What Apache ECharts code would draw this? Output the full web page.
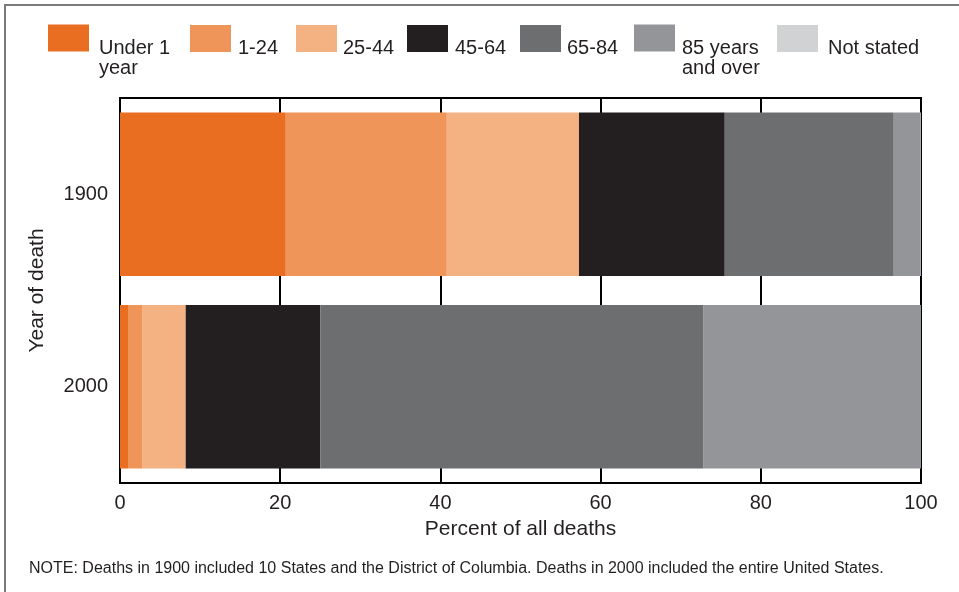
<!DOCTYPE html>
<html>
<head>
<meta charset="utf-8">
<script src="https://cdn.jsdelivr.net/npm/echarts@6/dist/echarts.min.js"></script>
<style>
html,body{margin:0;padding:0;background:#fff;}
#chart{width:959px;height:592px;}
</style>
</head>
<body>
<div id="chart"></div>
<script>
var years = ['1900', '2000'];
var ageGroups = ['Under 1\nyear', '1-24', '25-44', '45-64', '65-84', '85 years\nand over', 'Not stated'];
var groupColors = ['#E96E22', '#F0955A', '#F4B283', '#231F20', '#6D6E70', '#939598', '#D1D2D4'];
var values1900 = [20.7, 20.1, 16.5, 18.2, 21.1, 3.3, 0.1];
var values2000 = [1.0, 1.75, 5.45, 16.8, 47.8, 27.2, 0];
var xTicks = [0, 20, 40, 60, 80, 100];
var noteText = 'NOTE: Deaths in 1900 included 10 States and the District of Columbia. Deaths in 2000 included the entire United States.';

var FONT = '"Liberation Sans", Arial, Helvetica, sans-serif';
var legendLeft = [48, 190, 296, 407, 520, 634, 777];
var legendTextPad = [5, 2, 1, 2, 1, 2, 5];

var legends = ageGroups.map(function (g, i) {
  var lines = g.split('\n');
  var twoLine = lines.length > 1;
  return {
    data: [g],
    left: legendLeft[i],
    top: twoLine ? 14 : 24.5,
    padding: 0,
    orient: 'horizontal',
    icon: 'rect',
    itemWidth: 41,
    itemHeight: 27,
    selectedMode: false,
    formatter: function (name) {
      return '{s| }\n' + name.split('\n').map(function (l) { return '{t|' + l + '}'; }).join('\n');
    },
    textStyle: {
      fontFamily: FONT,
      fontSize: 20,
      color: '#231F20',
      rich: {
        s: { fontSize: 8, lineHeight: twoLine ? 40 : 20 },
        t: { fontFamily: FONT, fontSize: 20, lineHeight: 20, color: '#231F20', padding: [0, 0, 0, legendTextPad[i]] }
      }
    }
  };
});

var series = ageGroups.map(function (g, i) {
  return {
    name: g,
    type: 'bar',
    stack: 'total',
    barWidth: '85%',
    itemStyle: { color: groupColors[i] },
    emphasis: { disabled: true },
    data: [values1900[i], values2000[i]]
  };
});

var chart = echarts.init(document.getElementById('chart'), null, { renderer: 'canvas' });
chart.setOption({
  animation: false,
  backgroundColor: '#fff',
  graphic: [{
    type: 'rect',
    shape: { x: 5, y: 5, width: 1200, height: 1200 },
    style: { fill: 'none', stroke: '#7a7a7a', lineWidth: 2 },
    silent: true
  }, {
    type: 'text',
    left: 29,
    top: 561,
    style: { text: noteText, font: '16px ' + FONT, fill: '#231F20' },
    silent: true
  }],
  legend: legends,
  grid: {
    left: 120, right: 38, top: 98, bottom: 109,
    show: true, borderColor: '#000', borderWidth: 2, backgroundColor: 'transparent'
  },
  xAxis: {
    type: 'value',
    min: xTicks[0],
    max: xTicks[xTicks.length - 1],
    interval: 20,
    name: 'Percent of all deaths',
    nameLocation: 'middle',
    nameGap: 36,
    nameTextStyle: { fontFamily: FONT, fontSize: 21, color: '#231F20' },
    axisLine: { show: true, lineStyle: { color: '#000', width: 2 } },
    axisTick: { show: false },
    splitLine: { show: true, lineStyle: { color: '#000', width: 2 } },
    axisLabel: { fontFamily: FONT, fontSize: 20, color: '#231F20', margin: 10 }
  },
  yAxis: {
    type: 'category',
    data: years,
    inverse: true,
    name: 'Year of death',
    nameLocation: 'middle',
    nameGap: 72,
    nameTextStyle: { fontFamily: FONT, fontSize: 21, color: '#231F20' },
    axisLine: { show: true, lineStyle: { color: '#000', width: 2 } },
    axisTick: { show: false },
    splitLine: { show: false },
    axisLabel: { fontFamily: FONT, fontSize: 20, color: '#231F20', margin: 12 }
  },
  series: series
});
</script>
</body>
</html>
